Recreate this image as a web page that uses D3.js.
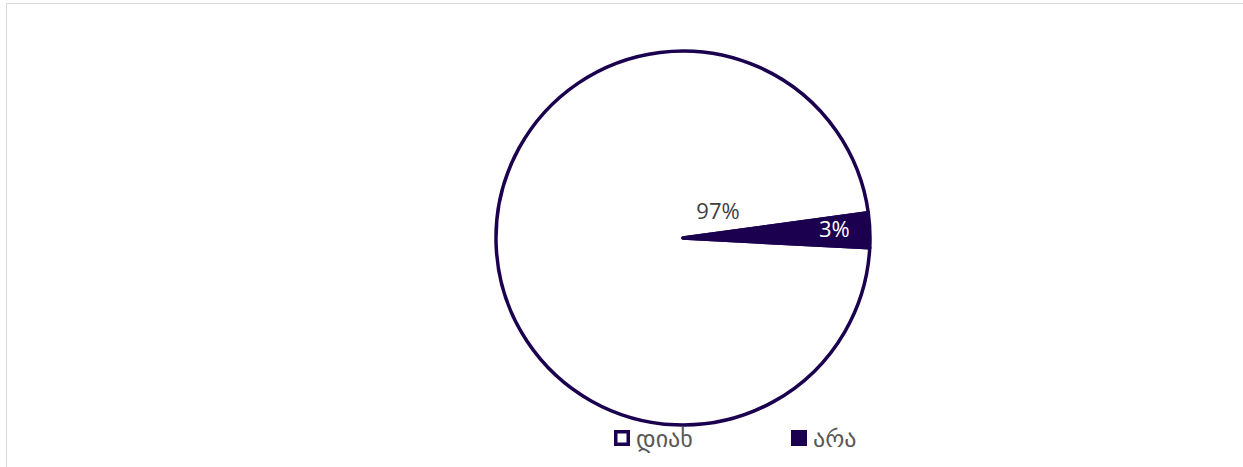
<!DOCTYPE html>
<html>
<head>
<meta charset="utf-8">
<script src="https://cdn.jsdelivr.net/npm/d3@7"></script>
<style>
  html, body { margin: 0; padding: 0; background: #fff; }
  svg { display: block; }
</style>
</head>
<body>
<svg id="chart" width="1243" height="467"></svg>
<script>
// Survey answers and their shares (percent)
const categories = ["დიახ", "არა"];
const values = [97, 3];
const fills = ["#ffffff", "#1b004f"];
const labelColors = ["#404040", "#ffffff"];

const W = 1243, H = 467;
const svg = d3.select("#chart");
const ink = "#1b004f";

// chart area frame
svg.append("rect")
  .attr("x", 6.5).attr("y", 3.5)
  .attr("width", W).attr("height", H)
  .attr("fill", "none").attr("stroke", "#d9d9d9").attr("stroke-width", 1);

const cx = 683, cy = 238, r = 187;
const startDeg = 93;

const pie = d3.pie()
  .sort(null)
  .value(d => d.value)
  .startAngle(startDeg * Math.PI / 180)
  .endAngle((startDeg + 360) * Math.PI / 180);

const data = categories.map((c, i) => ({ cat: c, value: values[i], fill: fills[i], lc: labelColors[i] }));
const arcs = pie(data);
const arc = d3.arc().innerRadius(0).outerRadius(r);

const g = svg.append("g").attr("transform", `translate(${cx},${cy})`);

g.selectAll("path.slice")
  .data(arcs)
  .join("path")
  .attr("class", "slice")
  .attr("d", arc)
  .attr("fill", d => d.data.fill)
  .attr("stroke", ink)
  .attr("stroke-width", 3.5)
  .attr("stroke-linejoin", "round");

// percentage labels
const total = d3.sum(values);
const labelArc = d3.arc().innerRadius(r * 0.81).outerRadius(r * 0.81);
g.selectAll("text.pct")
  .data(arcs)
  .join("text")
  .attr("class", "pct")
  .attr("transform", (d, i) => {
    if (i === 1) {
      const [x, y] = labelArc.centroid(d);
      return `translate(${x},${y - 4})`;
    }
    // the large slice's label sits above the narrow slice, near the centre
    const a = d.endAngle - 0.54;
    const rr = r * 0.24;
    return `translate(${Math.sin(a) * rr},${-Math.cos(a) * rr})`;
  })
  .attr("text-anchor", "middle")
  .attr("dominant-baseline", "central")
  .attr("font-family", "'Open Sans', 'Noto Sans', sans-serif")
  .attr("font-size", 22)
  .attr("fill", d => d.data.lc)
  .text(d => Math.round(d.data.value / total * 100) + "%");

// legend
const legend = svg.append("g");
const legX = [614, 791];
const items = legend.selectAll("g.item")
  .data(data)
  .join("g")
  .attr("class", "item")
  .attr("transform", (d, i) => `translate(${legX[i]},438)`);

items.append("rect")
  .attr("x", 1.75).attr("y", -6.25)
  .attr("width", 12.5).attr("height", 12.5)
  .attr("fill", d => d.fill)
  .attr("stroke", ink).attr("stroke-width", 3.5);

items.append("text")
  .attr("x", 22)
  .attr("y", 1)
  .attr("dominant-baseline", "central")
  .attr("font-family", "'DejaVu Sans', 'Noto Sans', sans-serif")
  .attr("font-size", 24)
  .attr("fill", "#595959")
  .text(d => d.cat);
</script>
</body>
</html>
